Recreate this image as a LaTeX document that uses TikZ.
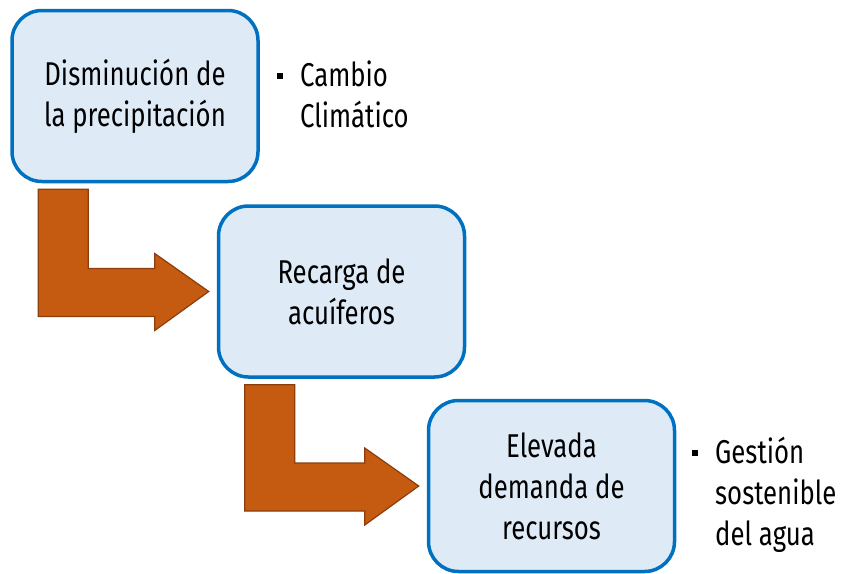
\documentclass[tikz,border=0pt]{standalone}
\usepackage{fontspec}
\setmainfont[FakeStretch=0.78]{Fira Sans}
\usetikzlibrary{calc}
\definecolor{boxfill}{HTML}{DEEBF7}
\definecolor{boxline}{HTML}{0070C0}
\definecolor{arrfill}{HTML}{C55A11}
\definecolor{arrline}{HTML}{8C3D0C}
\pgfdeclarelayer{background}
\pgfsetlayers{background,main}
\tikzset{
  box/.style={draw=boxline, fill=boxfill, line width=3.5pt, rounded corners=30pt,
    minimum width=246pt, minimum height=171pt, align=center, inner sep=0pt,
    font=\fontsize{33}{41}\selectfont},
  note/.style={align=left, anchor=north west, inner sep=0pt,
    font=\fontsize{33}{41}\selectfont},
  blockarrow/.style={fill=arrfill, draw=arrline, line width=1.2pt, line join=miter},
}
\newcommand\bul{\llap{\raisebox{8pt}{\rule{6pt}{6pt}}\hspace{17pt}}}
\newcommand\bentarrow[2]{%
  \path let \p1=(#1.south west), \p2=(#2.west) in
    coordinate (a1) at (\x1+28pt,\y1-6pt)
    coordinate (a2) at (\x1+78pt,\y1-6pt)
    coordinate (a3) at (\x1+78pt,\y2+23pt)
    coordinate (a4) at (\x2-62pt,\y2+23pt)
    coordinate (a5) at (\x2-62pt,\y2+38pt)
    coordinate (a6) at (\x2-8pt,\y2)
    coordinate (a7) at (\x2-62pt,\y2-39pt)
    coordinate (a8) at (\x2-62pt,\y2-25pt)
    coordinate (a9) at (\x1+28pt,\y2-25pt);
  \draw[blockarrow] (a1) -- (a2) -- (a3) -- (a4) -- (a5) -- (a6) -- (a7) -- (a8) -- (a9) -- cycle;}
\begin{document}
\begin{tikzpicture}[x=1pt,y=-1pt]
\useasboundingbox (0,0) rectangle (845,573);
\node[box] (b1) at (135,96) {Disminución de\\la precipitación};
\node[box] (b2) at (341.5,291.5) {Recarga de\\acuíferos};
\node[box] (b3) at (551.5,486) {Elevada\\demanda de\\recursos};
\begin{pgfonlayer}{background}
\bentarrow{b1}{b2}
\bentarrow{b2}{b3}
\end{pgfonlayer}
\node[note] (n1) at (300,61) {\bul Cambio\\Climático};
\node[note] (n2) at (715,437) {\bul Gestión\\sostenible\\del agua};
\end{tikzpicture}
\end{document}
